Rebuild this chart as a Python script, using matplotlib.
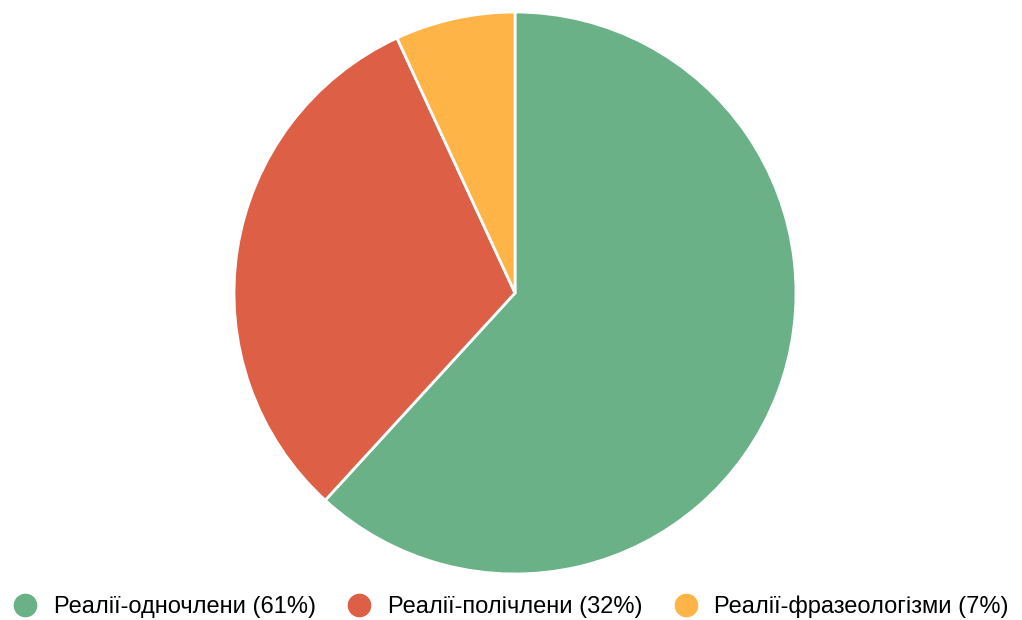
import matplotlib.pyplot as plt
from matplotlib.lines import Line2D

plt.rcParams['font.family'] = ['Liberation Sans', 'DejaVu Sans']

labels = ['Реалії-одночлени', 'Реалії-полічлени', 'Реалії-фразеологізми']
label_pct = [61, 32, 7]
values = [61.8, 31.3, 6.9]
colors = ['#6AB187', '#DC5F46', '#FEB446']

W, H = 1022, 620
fig = plt.figure(figsize=(W / 100, H / 100), dpi=100)

# pie centre ~ (515, 293) px, radius ~281 px
cx, cy, r = 515, 293, 281
ax = fig.add_axes([(cx - r) / W, (H - cy - r) / H, 2 * r / W, 2 * r / H])
ax.pie(values, colors=colors, startangle=90, counterclock=False,
       wedgeprops=dict(edgecolor='white', linewidth=2))
ax.set_xlim(-1, 1)
ax.set_ylim(-1, 1)
ax.set_aspect('equal')

handles = [Line2D([], [], marker='o', linestyle='none', markersize=16,
                  markerfacecolor=c, markeredgecolor=c) for c in colors]
leg_labels = [f'{l} ({p}%)' for l, p in zip(labels, label_pct)]
fig.legend(handles, leg_labels, loc='center', bbox_to_anchor=(0.5, 1 - 607 / H),
           ncol=3, frameon=False, fontsize=17, handletextpad=0.7,
           columnspacing=1.35, handlelength=1.0, borderpad=0, borderaxespad=0)

fig.savefig('out.png', dpi=100)
